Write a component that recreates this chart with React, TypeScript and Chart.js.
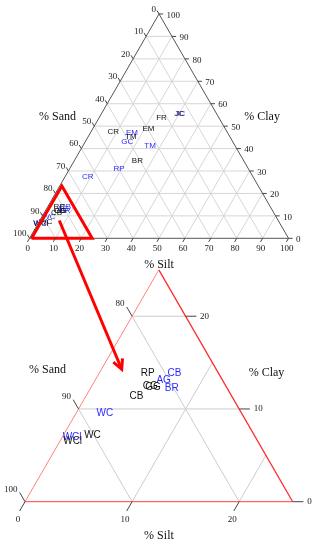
import React, { useEffect, useRef } from "react";
import { Chart, registerables } from "chart.js";
Chart.register(...registerables);

// ---------------- data ----------------
const blackLabels = ["FR", "JC", "EM", "CR", "TM", "BR", "RP", "CG", "GG", "CB", "WC", "WCl"];
const blackSand = [22.1, 14.6, 29.6, 44.0, 38.2, 41.1, 81.6, 82.1, 81.9, 83.9, 90.1, 92.3];
const blackSilt = [24.0, 30.1, 21.4, 8.7, 16.5, 24.4, 4.5, 5.5, 5.8, 4.7, 2.7, 1.2];
const blackClay = [53.9, 55.3, 49.0, 47.3, 45.3, 34.5, 13.9, 12.4, 12.3, 11.4, 7.2, 6.5];

const blueLabels = ["JC", "EM", "GC", "TM", "RP", "CR", "CB", "AG", "BR", "WC", "WCl"];
const blueSand = [14.1, 36.9, 40.7, 32.8, 49.8, 63.9, 79.1, 80.5, 80.2, 87.8, 92.1];
const blueSilt = [30.6, 16.0, 16.2, 25.9, 19.0, 8.9, 7.0, 6.4, 7.6, 2.7, 0.9];
const blueClay = [55.3, 47.1, 43.1, 41.3, 31.2, 27.2, 13.9, 13.1, 12.2, 9.5, 7.0];

const mainTicks = [0, 10, 20, 30, 40, 50, 60, 70, 80, 90, 100];
const mainGrid = [10, 20, 30, 40, 50, 60, 70, 80, 90];
const zoomSandTicks = [80, 90, 100];
const zoomSiltTicks = [0, 10, 20];
const zoomClayTicks = [0, 10, 20];
const zoomSandGrid = [80, 90];
const zoomSiltGrid = [10, 20];
const zoomClayGrid = [10, 20];
const ZOOM_SAND_MIN = 75;

const titleSand = "% Sand";
const titleSilt = "% Silt";
const titleClay = "% Clay";

// ---------------- layout ----------------
const W = 317;
const H = 550;
const MAIN = { left: 29.5, right: 288.5, base: 238.3, sandMin: 0 };
const ZOOM = { left: 25, right: 292.7, base: 501.7, sandMin: ZOOM_SAND_MIN };
const SERIF = "'Liberation Serif', 'Times New Roman', serif";
const SANS = "'Liberation Sans', Arial, sans-serif";
const BLUE = "#2a2aff";
const BLACK = "#111111";

function ranges(g: any) {
  const span = 100 - g.sandMin;
  const pxu = (g.right - g.left) / span;
  const pyu = (pxu * Math.sqrt(3)) / 2;
  const xmin = -g.left / pxu;
  const ymin = -(H - g.base) / pyu;
  return { x: { min: xmin, max: xmin + W / pxu }, y: { min: ymin, max: ymin + H / pyu } };
}

const xy = (silt: number, clay: number) => ({ x: silt + clay / 2, y: clay });

function lineDs(points: any[], xa: string, ya: string, color: string, width: number, order: number) {
  return {
    type: "scatter",
    data: points,
    showLine: true,
    borderColor: color,
    backgroundColor: color,
    borderWidth: width,
    pointRadius: 0,
    pointHoverRadius: 0,
    fill: false,
    tension: 0,
    xAxisID: xa,
    yAxisID: ya,
    order,
  };
}

function gridDatasets(m: number, sandVals: number[], siltVals: number[], clayVals: number[], xa: string, ya: string, color: string) {
  const out: any[] = [];
  const span = 100 - m;
  sandVals.forEach((s) => out.push(lineDs([xy(0, 100 - s), xy(100 - s, 0)], xa, ya, color, 1, 6)));
  siltVals.forEach((t) => out.push(lineDs([xy(t, 0), xy(t, span - t)], xa, ya, color, 1, 6)));
  clayVals.forEach((c) => out.push(lineDs([xy(0, c), xy(span - c, c)], xa, ya, color, 1, 6)));
  return out;
}

function labelDs(labels: string[], silt: number[], clay: number[], sand: number[], color: string, size: number, xa: string, ya: string, minSand: number) {
  const pts: any[] = [];
  const txt: string[] = [];
  labels.forEach((l, i) => {
    if (sand[i] >= minSand) {
      pts.push(xy(silt[i], clay[i]));
      txt.push(l);
    }
  });
  return {
    type: "scatter",
    data: pts,
    pointRadius: 0,
    pointHoverRadius: 0,
    showLine: false,
    xAxisID: xa,
    yAxisID: ya,
    order: 3,
    textLabels: txt,
    textColor: color,
    fontSize: size,
  };
}

const ternaryPlugin = {
  id: "ternary",
  afterDatasetDraw(chart: any, args: any) {
    const ds = chart.data.datasets[args.index];
    if (!ds.textLabels) return;
    const ctx = chart.ctx;
    ctx.save();
    ctx.font = `${ds.fontSize}px ${SANS}`;
    ctx.fillStyle = ds.textColor;
    ctx.textAlign = "center";
    ctx.textBaseline = "middle";
    args.meta.data.forEach((el: any, i: number) => ctx.fillText(ds.textLabels[i], el.x, el.y));
    ctx.restore();
  },
  afterDatasetsDraw(chart: any) {
    const ctx = chart.ctx;
    const sc = chart.scales;
    const P = (xa: string, ya: string, p: any) => [sc[xa].getPixelForValue(p.x), sc[ya].getPixelForValue(p.y)];
    ctx.save();
    ctx.strokeStyle = "#444";
    ctx.fillStyle = "#222";
    ctx.lineWidth = 1;
    ctx.font = `9px ${SERIF}`;
    ctx.textBaseline = "middle";

    const drawTicks = (xa: string, ya: string, m: number, sandT: number[], siltT: number[], clayT: number[], d: number, off: any) => {
      const span = 100 - m;
      sandT.forEach((s) => {
        const [px, py] = P(xa, ya, xy(0, 100 - s));
        const [qx, qy] = P(xa, ya, xy(-d, 100 - s + d));
        ctx.beginPath(); ctx.moveTo(px, py); ctx.lineTo(qx, qy); ctx.stroke();
        ctx.textAlign = "right";
        ctx.fillText(String(s), px + off.sand[0], py + off.sand[1]);
      });
      clayT.forEach((c) => {
        const [px, py] = P(xa, ya, xy(span - c, c));
        const [qx, qy] = P(xa, ya, xy(span - c + d, c));
        ctx.beginPath(); ctx.moveTo(px, py); ctx.lineTo(qx, qy); ctx.stroke();
        ctx.textAlign = "left";
        ctx.fillText(String(c), px + off.clay[0], py + off.clay[1]);
      });
      siltT.forEach((t) => {
        const [px, py] = P(xa, ya, xy(t, 0));
        const [qx, qy] = P(xa, ya, xy(t, -d));
        ctx.beginPath(); ctx.moveTo(px, py); ctx.lineTo(qx, qy); ctx.stroke();
        ctx.textAlign = "center";
        ctx.fillText(String(t), px + off.silt[0], py + off.silt[1]);
      });
    };

    drawTicks("x", "y", MAIN.sandMin, mainTicks, mainTicks, mainTicks, 1.6, {
      sand: [-3, -4.5],
      clay: [7.5, 1.3],
      silt: [-1.8, 10.7],
    });
    drawTicks("xb", "yb", ZOOM.sandMin, zoomSandTicks, zoomSiltTicks, zoomClayTicks, 1.0, {
      sand: [-7.5, -12.5],
      clay: [14.5, 0],
      silt: [-7, 17.5],
    });

    ctx.font = `12px ${SERIF}`;
    ctx.fillStyle = "#111";
    ctx.textAlign = "center";
    const title = (xa: string, ya: string, p: any, t: string) => {
      const [px, py] = P(xa, ya, p);
      ctx.fillText(t, px, py);
    };
    title("x", "y", { x: 10.8, y: 54.3 }, titleSand);
    title("x", "y", { x: 89.8, y: 54.3 }, titleClay);
    title("x", "y", { x: 50, y: -12.0 }, titleSilt);
    title("xb", "yb", { x: 2.1, y: 14.2 }, titleSand);
    title("xb", "yb", { x: 22.55, y: 13.9 }, titleClay);
    title("xb", "yb", { x: 12.51, y: -3.7 }, titleSilt);

    const arrowIdx = chart.data.datasets.findIndex((d: any) => d.isArrow);
    if (arrowIdx >= 0) {
      const els = chart.getDatasetMeta(arrowIdx).data;
      const a = els[0], b = els[els.length - 1];
      const ang = Math.atan2(b.y - a.y, b.x - a.x);
      const len = 11, spread = (27 * Math.PI) / 180;
      ctx.strokeStyle = "#ff0000";
      ctx.lineWidth = 3;
      ctx.lineCap = "butt";
      ctx.lineJoin = "miter";
      ctx.beginPath();
      ctx.moveTo(b.x - len * Math.cos(ang - spread), b.y - len * Math.sin(ang - spread));
      ctx.lineTo(b.x, b.y);
      ctx.lineTo(b.x - len * Math.cos(ang + spread), b.y - len * Math.sin(ang + spread));
      ctx.stroke();
    }
    ctx.restore();
  },
};

export default function App() {
  const ref = useRef<HTMLCanvasElement | null>(null);
  useEffect(() => {
    if (!ref.current) return;
    const rm = ranges(MAIN);
    const rz = ranges(ZOOM);
    const zspan = 100 - ZOOM.sandMin;

    const datasets: any[] = [
      ...gridDatasets(0, mainGrid, mainGrid, mainGrid, "x", "y", "#d6d6d6"),
      lineDs([xy(0, 0), xy(100, 0), xy(0, 100), xy(0, 0)], "x", "y", "#555555", 1, 4),
      ...gridDatasets(ZOOM.sandMin, zoomSandGrid, zoomSiltGrid, zoomClayGrid, "xb", "yb", "#cccccc"),
      lineDs([xy(0, 0), xy(0, zspan)], "xb", "yb", "#ff8080", 1, 4),
      lineDs([xy(0, zspan), xy(zspan, 0)], "xb", "yb", "#ff2a2a", 1.3, 4),
      lineDs([xy(0, 0), xy(zspan, 0)], "xb", "yb", "#ff4040", 1, 4),
      labelDs(blackLabels, blackSilt, blackClay, blackSand, BLACK, 8, "x", "y", 0),
      labelDs(blueLabels, blueSilt, blueClay, blueSand, BLUE, 8, "x", "y", 0),
      labelDs(blackLabels, blackSilt, blackClay, blackSand, BLACK, 10, "xb", "yb", ZOOM_SAND_MIN),
      labelDs(blueLabels, blueSilt, blueClay, blueSand, BLUE, 10, "xb", "yb", ZOOM_SAND_MIN),
      { ...lineDs([{ x: 0.8, y: 0 }, { x: 24.2, y: 0 }, { x: 12.5, y: 23.3 }, { x: 0.8, y: 0 }], "x", "y", "#ff0000", 3, 2), borderJoinStyle: "miter" },
      { ...lineDs([{ x: 11.5, y: 7.94 }, { x: 35.6, y: -58.4 }], "x", "y", "#ff0000", 3, 1), isArrow: true },
    ];

    const chart = new Chart(ref.current, {
      type: "scatter",
      data: { datasets },
      options: {
        animation: false,
        responsive: true,
        maintainAspectRatio: false,
        devicePixelRatio: 1,
        events: [],
        layout: { padding: 0 },
        plugins: { legend: { display: false }, tooltip: { enabled: false }, title: { display: false } },
        scales: {
          x: { type: "linear", min: rm.x.min, max: rm.x.max, display: false, bounds: "data" },
          y: { type: "linear", min: rm.y.min, max: rm.y.max, display: false, bounds: "data" },
          xb: { type: "linear", axis: "x", min: rz.x.min, max: rz.x.max, display: false, bounds: "data" },
          yb: { type: "linear", axis: "y", min: rz.y.min, max: rz.y.max, display: false, bounds: "data" },
        },
      } as any,
      plugins: [ternaryPlugin as any],
    } as any);
    return () => chart.destroy();
  }, []);

  return (
    <div style={{ position: "absolute", left: 0, top: 0, width: W, height: H, background: "#fff" }}>
      <canvas ref={ref} />
    </div>
  );
}
